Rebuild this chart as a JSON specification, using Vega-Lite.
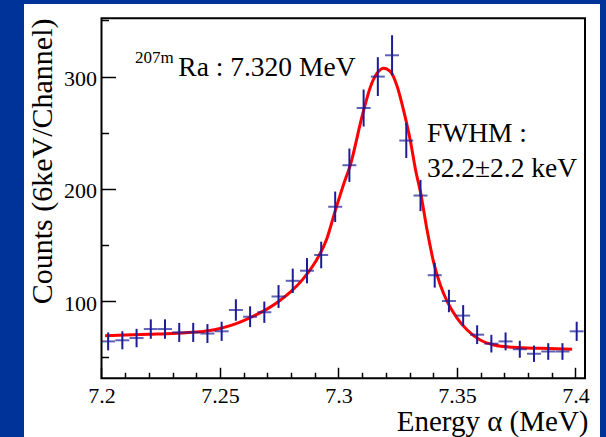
{
  "$schema": "https://vega.github.io/schema/vega-lite/v6.json",
  "width": 576,
  "height": 433,
  "autosize": {"type": "none"},
  "padding": {"left": 24, "top": 4, "right": 6, "bottom": 0},
  "background": "#003399",
  "view": {"fill": "white", "stroke": null},
  "config": {"view": {"fill": "white", "stroke": null}, "font": "Liberation Serif"},
  "datasets": {
    "counts": [
      {"E": 7.2028, "n": 64, "err": 8.0},
      {"E": 7.2088, "n": 65, "err": 8.06},
      {"E": 7.2148, "n": 67, "err": 8.19},
      {"E": 7.2208, "n": 75, "err": 8.66},
      {"E": 7.2268, "n": 75, "err": 8.66},
      {"E": 7.2328, "n": 72, "err": 8.49},
      {"E": 7.2387, "n": 72, "err": 8.49},
      {"E": 7.2447, "n": 71, "err": 8.43},
      {"E": 7.2507, "n": 73, "err": 8.54},
      {"E": 7.2567, "n": 92, "err": 9.59},
      {"E": 7.2627, "n": 86, "err": 9.27},
      {"E": 7.2687, "n": 90, "err": 9.49},
      {"E": 7.2747, "n": 104, "err": 10.2},
      {"E": 7.2807, "n": 118, "err": 10.86},
      {"E": 7.2867, "n": 127, "err": 11.27},
      {"E": 7.2927, "n": 141, "err": 11.87},
      {"E": 7.2986, "n": 184, "err": 13.56},
      {"E": 7.3046, "n": 221, "err": 14.87},
      {"E": 7.3106, "n": 272, "err": 16.49},
      {"E": 7.3166, "n": 300, "err": 17.32},
      {"E": 7.3226, "n": 319, "err": 17.86},
      {"E": 7.3286, "n": 243, "err": 15.59},
      {"E": 7.3346, "n": 194, "err": 13.93},
      {"E": 7.3406, "n": 123, "err": 11.09},
      {"E": 7.3466, "n": 100, "err": 10.0},
      {"E": 7.3526, "n": 87, "err": 9.33},
      {"E": 7.3585, "n": 70, "err": 8.37},
      {"E": 7.3645, "n": 62, "err": 7.87},
      {"E": 7.3705, "n": 64, "err": 8.0},
      {"E": 7.3765, "n": 57, "err": 7.55},
      {"E": 7.3825, "n": 53, "err": 7.28},
      {"E": 7.3885, "n": 55, "err": 7.42},
      {"E": 7.3945, "n": 55, "err": 7.42},
      {"E": 7.4005, "n": 73, "err": 8.54}
    ],
    "fit": [
      {"E": 7.2015, "n": 69},
      {"E": 7.21, "n": 69.7},
      {"E": 7.22, "n": 70.4},
      {"E": 7.23, "n": 71.1},
      {"E": 7.24, "n": 72.3},
      {"E": 7.245, "n": 73.5},
      {"E": 7.25, "n": 75.5},
      {"E": 7.255, "n": 78.5},
      {"E": 7.26, "n": 82.5},
      {"E": 7.265, "n": 87.5},
      {"E": 7.27, "n": 93},
      {"E": 7.275, "n": 100},
      {"E": 7.28, "n": 108.5},
      {"E": 7.285, "n": 119.5},
      {"E": 7.29, "n": 134},
      {"E": 7.295, "n": 155},
      {"E": 7.2987, "n": 181},
      {"E": 7.302, "n": 203},
      {"E": 7.3051, "n": 222},
      {"E": 7.31, "n": 265},
      {"E": 7.3135, "n": 291},
      {"E": 7.3163, "n": 303},
      {"E": 7.3191, "n": 307.4},
      {"E": 7.3219, "n": 304.4},
      {"E": 7.3248, "n": 291},
      {"E": 7.3276, "n": 268.7},
      {"E": 7.3304, "n": 242},
      {"E": 7.3325, "n": 217},
      {"E": 7.3346, "n": 197},
      {"E": 7.3374, "n": 163},
      {"E": 7.3402, "n": 134},
      {"E": 7.343, "n": 114},
      {"E": 7.346, "n": 99},
      {"E": 7.3501, "n": 84.6},
      {"E": 7.3543, "n": 74.2},
      {"E": 7.36, "n": 65},
      {"E": 7.3656, "n": 60.8},
      {"E": 7.374, "n": 58.7},
      {"E": 7.3852, "n": 57.8},
      {"E": 7.3986, "n": 57}
    ]
  },
  "resolve": {"axis": {"x": "independent", "y": "independent"}},
  "layer": [
    {
      "data": {"name": "fit"},
      "mark": {"type": "line", "color": "#ff0000", "strokeWidth": 3, "interpolate": "monotone"},
      "encoding": {
        "x": {
          "field": "E",
          "type": "quantitative",
          "scale": {"domain": [7.1673, 7.41034], "nice": false, "zero": false},
          "axis": {
            "orient": "bottom",
            "title": "Energy α (MeV)",
            "values": [7.2, 7.25, 7.3, 7.35, 7.4],
            "format": "~g",
            "tickSize": -11,
            "tickColor": "black",
            "tickWidth": 1.5,
            "domain": false,
            "grid": false,
            "offset": -58.7,
            "labelFont": "Liberation Serif",
            "labelFontSize": 22,
            "labelColor": "black",
            "labelPadding": 18,
            "labelOverlap": false,
            "labelFlush": false,
            "labelBaseline": "top",
            "titleFont": "Liberation Serif",
            "titleFontSize": 29,
            "titleFontWeight": "normal",
            "titleColor": "black",
            "titleAlign": "right",
            "titleBaseline": "alphabetic",
            "titleX": 564,
            "titleY": 51.7
          }
        },
        "y": {
          "field": "n",
          "type": "quantitative",
          "scale": {"domain": [-21.2, 364.7], "nice": false, "zero": false},
          "axis": {
            "orient": "left",
            "title": "Counts (6keV/Channel)",
            "values": [100, 200, 300],
            "tickSize": -14,
            "tickColor": "black",
            "tickWidth": 1.5,
            "domain": false,
            "grid": false,
            "offset": -77.5,
            "labelFont": "Liberation Serif",
            "labelFontSize": 22,
            "labelColor": "black",
            "labelPadding": 19,
            "labelOffset": 2,
            "labelOverlap": false,
            "labelFlush": false,
            "titleFont": "Liberation Serif",
            "titleFontSize": 30,
            "titleFontWeight": "normal",
            "titleColor": "black",
            "titleAngle": -90,
            "titleAlign": "right",
            "titleBaseline": "alphabetic",
            "titleX": -50.5,
            "titleY": 14
          }
        }
      }
    },
    {
      "data": {"name": "counts"},
      "mark": {"type": "tick", "orient": "horizontal", "size": 14, "thickness": 2, "color": "#1c1c96"},
      "encoding": {
        "x": {
          "field": "E",
          "type": "quantitative",
          "scale": {"domain": [7.1673, 7.41034], "nice": false, "zero": false},
          "axis": {
            "orient": "bottom",
            "title": null,
            "values": [7.21, 7.22, 7.23, 7.24, 7.26, 7.27, 7.28, 7.29, 7.31, 7.32, 7.33, 7.34, 7.36, 7.37, 7.38, 7.39],
            "labels": false,
            "tickSize": -6,
            "tickColor": "black",
            "tickWidth": 1.5,
            "domain": false,
            "grid": false,
            "offset": -58.7
          }
        },
        "y": {
          "field": "n",
          "type": "quantitative",
          "scale": {"domain": [-21.2, 364.7], "nice": false, "zero": false},
          "axis": {
            "orient": "left",
            "title": null,
            "values": [50, 150, 250, 350],
            "labels": false,
            "tickSize": -7,
            "tickColor": "black",
            "tickWidth": 1.5,
            "domain": false,
            "grid": false,
            "offset": -77.5
          }
        }
      }
    },
    {
      "data": {"name": "counts"},
      "mark": {"type": "errorbar", "ticks": false, "color": "#1c1c96", "thickness": 2},
      "encoding": {
        "x": {"field": "E", "type": "quantitative", "axis": null},
        "y": {"field": "n", "type": "quantitative", "axis": null},
        "yError": {"field": "err"}
      }
    },
    {
      "data": {"values": [{}]},
      "mark": {"type": "rect", "filled": false, "stroke": "black", "strokeWidth": 2},
      "encoding": {
        "x": {"datum": 7.2, "type": "quantitative", "axis": null},
        "x2": {"datum": 7.40401},
        "y": {"datum": 31.1, "type": "quantitative", "axis": null},
        "y2": {"datum": 351.96}
      }
    },
    {
      "data": {"values": [{"E": 7.2141, "n": 311.9, "label": "207m"}]},
      "mark": {"type": "text", "align": "left", "baseline": "alphabetic", "fontSize": 17, "font": "Liberation Serif", "color": "black"},
      "encoding": {
        "x": {"field": "E", "type": "quantitative", "axis": null},
        "y": {"field": "n", "type": "quantitative", "axis": null},
        "text": {"field": "label"}
      }
    },
    {
      "data": {"values": [
        {"E": 7.2324, "n": 300.5, "label": "Ra : 7.320 MeV"},
        {"E": 7.3373, "n": 242, "label": "FWHM :"},
        {"E": 7.3373, "n": 210.8, "label": "32.2±2.2 keV"}
      ]},
      "mark": {"type": "text", "align": "left", "baseline": "alphabetic", "fontSize": 27.5, "font": "Liberation Serif", "color": "black"},
      "encoding": {
        "x": {"field": "E", "type": "quantitative", "axis": null},
        "y": {"field": "n", "type": "quantitative", "axis": null},
        "text": {"field": "label"}
      }
    }
  ]
}
